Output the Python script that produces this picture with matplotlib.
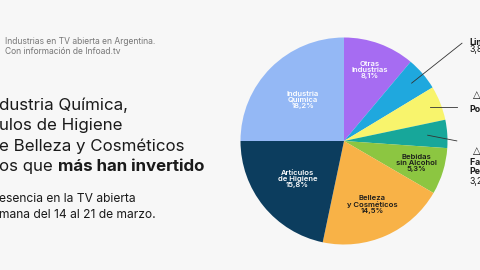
import numpy as np
import matplotlib
matplotlib.use("Agg")
import matplotlib.pyplot as plt

# data (clockwise from 12 o'clock)
sectores = ["Otras\nIndustrias", "Limpieza", "Pollería", "Farmacia y\nPerfumería",
            "Bebidas\nsin Alcohol", "Belleza\ny Cosméticos", "Artículos\nde Higiene",
            "Industria\nQuímica"]
valores = [8.1, 3.8, 3.9, 3.2, 5.3, 14.5, 15.8, 18.2]
colores = ["#a66cf2", "#1fa8de", "#f8f46c", "#17a79a", "#8cc641", "#f8b247",
           "#0c3d5e", "#94b8f5"]

titulo = ["dustria Química,", "ulos de Higiene", "e Belleza y Cosméticos"]
titulo_ult = ("os que ", "más han invertido")
subtitulo = ["esencia en la TV abierta", "mana del 14 al 21 de marzo."]
fuente = ["Industrias en TV abierta en Argentina.", "Con información de Infoad.tv"]

BG = "#f7f7f7"
plt.rcParams['font.family'] = ['Inter', 'DejaVu Sans']

fig = plt.figure(figsize=(4.8, 2.7), dpi=100, facecolor=BG)

W, H = 480.0, 270.0
cx, cy, R = 344.0, 129.0, 103.5
ax = fig.add_axes([(cx - R) / W, (cy - R) / H, 2 * R / W, 2 * R / H])
ax.set_facecolor(BG)

wedges, _ = ax.pie(valores, colors=colores, startangle=90, counterclock=False,
                   radius=1.0, wedgeprops=dict(linewidth=0))
ax.set_xlim(-1, 1)
ax.set_ylim(-1, 1)
ax.set_aspect("equal")
ax.axis("off")


def punto(w, r):
    ang = np.deg2rad((w.theta1 + w.theta2) / 2)
    return r * np.cos(ang), r * np.sin(ang)


def pct(v):
    return ("%.1f%%" % v).replace(".", ",")


# labels inside the pie
internos = {0: (0.73, "white"), 4: (0.73, "#1a1a1a"), 5: (0.67, "#1a1a1a"),
            6: (0.58, "white"), 7: (0.56, "white")}
for i, (r, col) in internos.items():
    x, y = punto(wedges[i], r)
    ax.text(x, y, sectores[i] + "\n" + pct(valores[i]), ha="center", va="center",
            fontsize=5.5, color=col, fontweight="semibold", linespacing=1.05)

# callouts on the right
callouts = {1: (0.86, (1.14, 0.945)), 2: (0.89, (1.09, None)), 3: (0.81, (1.09, None))}
for i, (r, (ex, ey)) in callouts.items():
    x0, y0 = punto(wedges[i], r)
    if ey is None:
        ey = y0 - (0.055 if i == 3 else 0)
    ax.plot([x0, ex], [y0, ey], color="#333333", lw=0.6, clip_on=False)

tx = 1.215
ax.text(tx, 0.955, "Limpieza", fontsize=6.3, fontweight="bold", color="#1a1a1a",
        va="center", ha="left", clip_on=False)
ax.text(tx, 0.88, pct(valores[1]), fontsize=6.3, color="#1a1a1a",
        va="center", ha="left", clip_on=False)
ax.text(1.245, 0.44, "△", fontsize=7, fontweight="bold", color="#1a1a1a",
        va="center", ha="left", family="DejaVu Sans", clip_on=False)
ax.text(tx, 0.30, "Pollería", fontsize=6.3, fontweight="bold", color="#1a1a1a",
        va="center", ha="left", clip_on=False)
ax.text(1.245, -0.10, "△", fontsize=7, fontweight="bold", color="#1a1a1a",
        va="center", ha="left", family="DejaVu Sans", clip_on=False)
ax.text(tx, -0.25, sectores[3], fontsize=6.3, fontweight="bold", color="#1a1a1a",
        va="center", ha="left", linespacing=0.95, clip_on=False)
ax.text(tx, -0.395, pct(valores[3]), fontsize=6.3, color="#1a1a1a",
        va="center", ha="left", clip_on=False)

# source note
fig.text(5 / W, 1 - 41 / H, fuente[0], fontsize=6.1, color="#777777", va="center")
fig.text(5 / W, 1 - 51 / H, fuente[1], fontsize=6.1, color="#777777", va="center")

# title
FS = 12.2
tys = [105, 125.5, 146]
for t, yy in zip(titulo, tys):
    fig.text(-1 / W, 1 - yy / H, t, fontsize=FS, color="#1a1a1a", va="center")
t1 = fig.text(-1 / W, 1 - 166.5 / H, titulo_ult[0], fontsize=FS, color="#1a1a1a",
              va="center")
rend = fig.canvas.get_renderer()
bb = t1.get_window_extent(rend)
fig.text(bb.x1 / W, 1 - 166.5 / H, titulo_ult[1], fontsize=FS, color="#1a1a1a",
         va="center", fontweight="bold")

# subtitle
fig.text(-1 / W, 1 - 199 / H, subtitulo[0], fontsize=8.7, color="#1a1a1a", va="center")
fig.text(-1 / W, 1 - 215 / H, subtitulo[1], fontsize=8.7, color="#1a1a1a", va="center")

fig.savefig("out.png", dpi=100, facecolor=BG)
